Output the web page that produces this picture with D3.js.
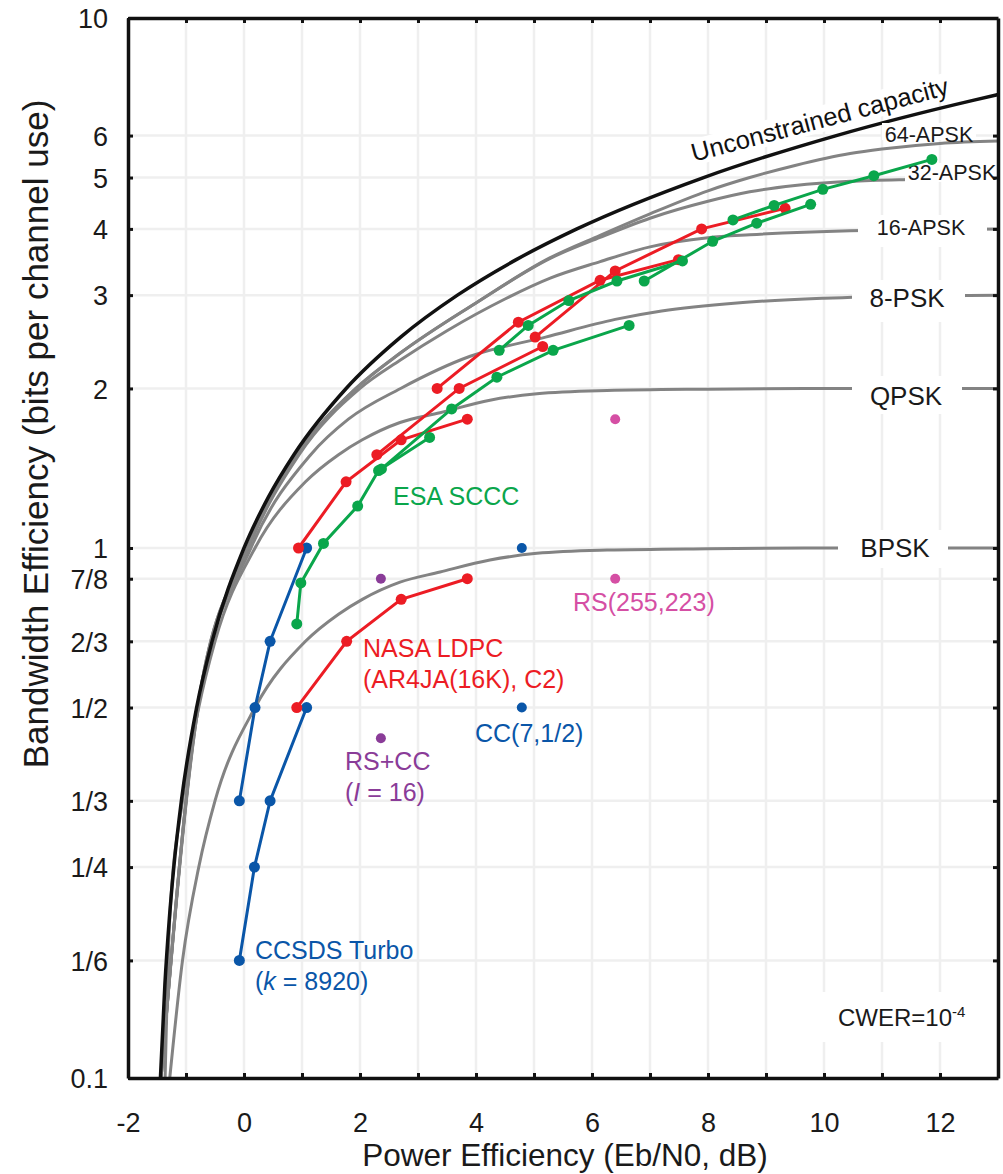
<!DOCTYPE html>
<html>
<head>
<meta charset="utf-8">
<script src="https://cdn.jsdelivr.net/npm/d3@7/dist/d3.min.js"></script>
<style>
  body { margin: 0; background: #fff; }
  text { font-family: "Liberation Sans", Arial, Helvetica, sans-serif; }
</style>
</head>
<body>
<svg id="chart" width="1003" height="1174"></svg>
<script>
// ---- axis ticks ----
const xTickValues = [-2, 0, 2, 4, 6, 8, 10, 12];
const xMinorValues = [-2, -1, 0, 1, 2, 3, 4, 5, 6, 7, 8, 9, 10, 11, 12, 13];
const yTickValues = [0.1, 1 / 6, 1 / 4, 1 / 3, 1 / 2, 2 / 3, 7 / 8, 1, 2, 3, 4, 5, 6, 10];
const yTickLabels = ["0.1", "1/6", "1/4", "1/3", "1/2", "2/3", "7/8", "1", "2", "3", "4", "5", "6", "10"];

// ---- capacity curves: [Eb/N0 (dB), bits per channel use] ----
const unconstrained = [[-1.441, 0.1], [-1.364, 0.15], [-1.287, 0.2], [-1.21, 0.25], [-1.08, 0.3333], [-0.817, 0.5],
  [-0.55, 0.6667], [0, 1], [0.425, 1.25], [0.86, 1.5], [1.761, 2], [2.701, 2.5], [3.68, 3], [4.694, 3.5],
  [5.74, 4], [7.924, 5], [10.212, 6], [12.587, 7], [13.0, 7.17]];
const bpsk = [[-1.28, 0.1], [-1.06, 0.1667], [-0.78, 0.25], [-0.5, 0.3333], [0.19, 0.5], [1.06, 0.6667], [1.63, 0.75],
  [2.04, 0.8], [2.69, 0.862], [3.38, 0.901], [4.24, 0.949], [5.05, 0.977], [6.26, 0.991], [8.0, 0.997], [10, 1.0], [13, 1.0]];
const qpsk = [[-1.36, 0.1], [-1.28, 0.2], [-1.06, 0.3333], [-0.78, 0.5], [-0.5, 0.6667], [0.19, 1.0], [1.06, 1.3333],
  [1.63, 1.5], [2.04, 1.6], [2.69, 1.725], [3.38, 1.8], [4.24, 1.9], [5.05, 1.955], [6.26, 1.982], [8.0, 1.994], [10, 2.0], [13, 2.0]];
const psk8 = [[-1.43, 0.1], [-0.79, 0.5], [0.12, 1.0], [1.15, 1.5], [1.8, 1.75], [2.7, 2.0], [3.9, 2.3], [5.2, 2.5],
  [6.4, 2.7], [7.2, 2.8], [8.5, 2.9], [10, 2.96], [11.5, 2.99], [13, 3.0]];
const apsk16 = [[-1.43, 0.1], [-0.79, 0.5], [0.08, 1.0], [0.95, 1.5], [2.0, 2.0], [2.69, 2.26], [3.5, 2.57], [4.5, 2.95],
  [5.28, 3.23], [6.14, 3.47], [7.0, 3.7], [8.0, 3.85], [8.72, 3.9], [10.45, 3.97], [13, 4.0]];
const apsk32 = [[-1.43, 0.1], [-0.8, 0.5], [0.06, 1.0], [0.92, 1.5], [1.93, 2.0], [2.69, 2.33], [4.0, 2.9], [5.28, 3.52],
  [6.14, 3.855], [7.0, 4.19], [8.0, 4.51], [8.72, 4.7], [9.5, 4.83], [10.45, 4.92], [11.5, 4.96], [13, 4.985]];
const apsk64 = [[-1.43, 0.1], [-0.8, 0.5], [0.06, 1.0], [0.92, 1.5], [1.93, 2.0], [2.69, 2.33], [4.0, 2.9], [5.28, 3.53],
  [6.14, 3.89], [7.0, 4.27], [8.0, 4.72], [8.72, 5.0], [9.5, 5.27], [10.45, 5.55], [11, 5.66], [12, 5.8], [13, 5.86]];

// ---- codes: [Eb/N0 (dB), bits per channel use] ----
const turboBpsk = [[-0.08, 1 / 6], [0.18, 1 / 4], [0.45, 1 / 3], [1.08, 1 / 2]];
const turboQpsk = [[-0.08, 1 / 3], [0.19, 1 / 2], [0.45, 2 / 3], [1.08, 1]];
const ldpcBpsk = [[0.91, 0.5], [1.77, 0.6667], [2.71, 0.8], [3.85, 0.875]];
const ldpcQpsk = [[0.94, 1], [1.76, 1.3333], [2.71, 1.6], [3.85, 1.75]];
const ldpc8psk = [[2.29, 1.5], [3.71, 2.0], [5.15, 2.4]];
const ldpc16apsk = [[3.33, 2.0], [4.73, 2.667], [6.14, 3.2], [7.49, 3.5]];
const ldpc32apsk = [[5.02, 2.5], [6.4, 3.333], [7.89, 4.0], [9.33, 4.375]];
const scccA = [[0.91, 0.719], [0.98, 0.859], [1.37, 1.02], [1.96, 1.2], [2.32, 1.4], [3.2, 1.617]];
const scccB = [[2.37, 1.41], [3.58, 1.83], [4.36, 2.1], [5.33, 2.36], [6.64, 2.63]];
const scccC = [[4.4, 2.36], [4.9, 2.63], [5.6, 2.93], [6.43, 3.19], [7.56, 3.48]];
const scccD = [[6.9, 3.19], [8.08, 3.79], [8.84, 4.1], [9.77, 4.45]];
const scccE = [[8.43, 4.16], [9.14, 4.43], [9.98, 4.75], [10.86, 5.04], [11.86, 5.41]];
const ccPoints = [[4.79, 0.5], [4.79, 1]];
const rsPoints = [[6.4, 0.875], [6.4, 1.75]];
const rsccPoints = [[2.36, 0.4375], [2.36, 0.875]];

const gray = "#838383";
const blue = "#0a56a8";
const red = "#ec1c24";
const green = "#0aa64b";
const purple = "#8a3c98";
const pink = "#d54fa4";

const svg = d3.select("#chart");
const x = d3.scaleLinear().domain([-2, 13]).range([128, 998]);
const y = d3.scaleLog().domain([0.1, 10]).range([1078, 18]);

svg.append("defs").append("clipPath").attr("id", "plot")
  .append("rect").attr("x", x(-2)).attr("y", y(10))
  .attr("width", x(13) - x(-2)).attr("height", y(0.1) - y(10));

// grid
const grid = svg.append("g").attr("stroke", "#efefef").attr("stroke-width", 2.5);
grid.selectAll("line.v").data(xMinorValues.filter(d => d > -2 && d < 13)).enter()
  .append("line").attr("x1", d => x(d)).attr("x2", d => x(d)).attr("y1", y(10)).attr("y2", y(0.1));
grid.selectAll("line.h").data(yTickValues.filter(d => d > 0.1 && d < 10)).enter()
  .append("line").attr("y1", d => y(d)).attr("y2", d => y(d)).attr("x1", x(-2)).attr("x2", x(13));

// capacity curves
const curve = d3.line().x(d => x(d[0])).y(d => y(d[1])).curve(d3.curveMonotoneX);
const plot = svg.append("g").attr("clip-path", "url(#plot)");
[bpsk, qpsk, psk8, apsk16, apsk32, apsk64].forEach(c => {
  plot.append("path").attr("d", curve(c)).attr("fill", "none")
    .attr("stroke", gray).attr("stroke-width", 3);
});
plot.append("path").attr("d", curve(unconstrained)).attr("fill", "none")
  .attr("stroke", "#111").attr("stroke-width", 3.5);

// white boxes behind labels
const boxes = [[858, 215, 129, 32], [852, 280, 113, 42], [852, 376, 110, 38], [838, 530, 110, 38],
  [810, 992, 180, 50], [882, 123, 94, 17], [905, 163, 93, 19]];
svg.append("g").selectAll("rect").data(boxes).enter().append("rect")
  .attr("x", d => d[0]).attr("y", d => d[1]).attr("width", d => d[2]).attr("height", d => d[3])
  .attr("fill", "#fff");

// unconstrained capacity label
const ucap = svg.append("g").attr("transform", "translate(822,128) rotate(-14.8)");
ucap.append("rect").attr("x", -136).attr("y", -22).attr("width", 272).attr("height", 26).attr("fill", "#fff");
ucap.append("text").attr("text-anchor", "middle").attr("font-size", 25.5).attr("fill", "#111")
  .text("Unconstrained capacity");

// modulation labels
const modLabels = [["64-APSK", 929, 142, 21.5], ["32-APSK", 952, 180, 21.5], ["16-APSK", 921, 235, 21.5],
  ["8-PSK", 907, 307, 26], ["QPSK", 906, 405, 26], ["BPSK", 895, 557, 26]];
svg.append("g").selectAll("text").data(modLabels).enter().append("text")
  .attr("x", d => d[1]).attr("y", d => d[2]).attr("font-size", d => d[3])
  .attr("text-anchor", "middle").attr("fill", "#1a1a1a").text(d => d[0]);

const cw = svg.append("text").attr("x", 838).attr("y", 1026).attr("font-size", 24).attr("fill", "#1a1a1a");
cw.append("tspan").text("CWER=10");
cw.append("tspan").attr("dy", -9).attr("font-size", 15).text("-4");

// code series
const seg = d3.line().x(d => x(d[0])).y(d => y(d[1]));
const series = [[turboBpsk, blue], [turboQpsk, blue], [ldpcBpsk, red], [ldpcQpsk, red], [ldpc8psk, red],
  [ldpc16apsk, red], [ldpc32apsk, red], [scccA, green], [scccB, green], [scccC, green], [scccD, green], [scccE, green]];
const marks = svg.append("g");
series.forEach(([pts, col]) => {
  marks.append("path").attr("d", seg(pts)).attr("fill", "none").attr("stroke", col).attr("stroke-width", 3);
  marks.selectAll(null).data(pts).enter().append("circle")
    .attr("cx", d => x(d[0])).attr("cy", d => y(d[1])).attr("r", 5.5).attr("fill", col);
});
[[ccPoints, blue], [rsPoints, pink], [rsccPoints, purple]].forEach(([pts, col]) => {
  marks.selectAll(null).data(pts).enter().append("circle")
    .attr("cx", d => x(d[0])).attr("cy", d => y(d[1])).attr("r", 5).attr("fill", col);
});

// annotations
function note(lines, px, py, col) {
  const t = svg.append("text").attr("x", px).attr("y", py).attr("font-size", 25).attr("fill", col);
  lines.forEach((l, i) => {
    const ts = t.append("tspan").attr("x", px).attr("dy", i === 0 ? 0 : 31);
    l.forEach(part => ts.append("tspan").attr("font-style", part[1] ? "italic" : null).text(part[0]));
  });
}
note([[["ESA SCCC"]]], 393, 505, green);
note([[["NASA LDPC"]], [["(AR4JA(16K), C2)"]]], 363, 657, red);
note([[["RS(255,223)"]]], 573, 611, pink);
note([[["CC(7,1/2)"]]], 475, 742, blue);
note([[["RS+CC"]], [["("], ["I", true], [" = 16)"]]], 345, 770, purple);
note([[["CCSDS Turbo"]], [["("], ["k", true], [" = 8920)"]]], 255, 959, blue);

// axes
const xAxis = d3.axisBottom(x).tickValues(xMinorValues.filter(d => d < 13)).tickSizeInner(-5).tickSizeOuter(0)
  .tickPadding(35).tickFormat(d => (d % 2 === 0 ? d : ""));
const gx = svg.append("g").attr("transform", `translate(0,${y(0.1)})`).call(xAxis);
const gxTop = svg.append("g").attr("transform", `translate(0,${y(10)})`)
  .call(d3.axisTop(x).tickValues(xMinorValues.filter(d => d < 13)).tickSizeInner(-5).tickSizeOuter(0).tickFormat(""));
const yAxis = d3.axisLeft(y).tickValues(yTickValues).tickSizeInner(-5).tickSizeOuter(0).tickPadding(20)
  .tickFormat((d, i) => yTickLabels[i]);
const gy = svg.append("g").attr("transform", `translate(${x(-2)},0)`).call(yAxis);
const gyRight = svg.append("g").attr("transform", `translate(${x(13)},0)`)
  .call(d3.axisRight(y).tickValues(yTickValues).tickSizeInner(-5).tickSizeOuter(0).tickFormat(""));
[gx, gxTop, gy, gyRight].forEach(g => {
  g.select(".domain").attr("stroke", "#111").attr("stroke-width", 3.5);
  g.selectAll(".tick line").attr("stroke", "#111").attr("stroke-width", 3);
  g.selectAll(".tick text").attr("font-size", 27).attr("fill", "#1a1a1a")
    .style("font-family", "'Liberation Sans', Arial, sans-serif");
});
gy.selectAll(".tick text").attr("dy", "0.36em");

svg.append("text").attr("x", 565).attr("y", 1166).attr("text-anchor", "middle").attr("font-size", 31.5)
  .attr("fill", "#1a1a1a").text("Power Efficiency (Eb/N0, dB)");
svg.append("text").attr("transform", "translate(48,434) rotate(-90)").attr("text-anchor", "middle")
  .attr("font-size", 35).attr("fill", "#1a1a1a").text("Bandwidth Efficiency (bits per channel use)");
</script>
</body>
</html>
